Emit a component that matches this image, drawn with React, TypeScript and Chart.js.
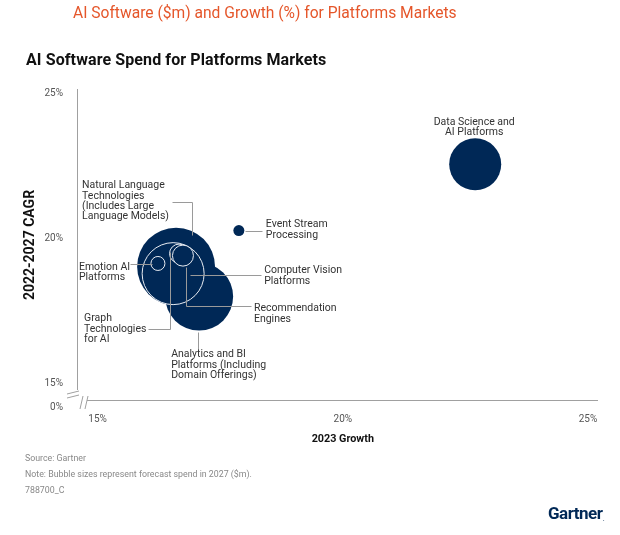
import { useEffect, useRef } from "react";
import { Chart, registerables } from "chart.js";
Chart.register(...registerables);

const markets = [
  "Natural Language Technologies (Includes Large Language Models)",
  "Analytics and BI Platforms (Including Domain Offerings)",
  "Computer Vision Platforms",
  "Emotion AI Platforms",
  "Graph Technologies for AI",
  "Recommendation Engines",
  "Event Stream Processing",
  "Data Science and AI Platforms",
];
const growth2023 = [16.6, 17.07, 16.54, 16.23, 16.66, 16.74, 17.88, 22.7];
const cagr = [19.03, 18.0, 18.79, 19.14, 19.48, 19.41, 20.27, 22.55];
const spend2027 = [15000, 11430, 9500, 485, 890, 1090, 300, 6690];
const xTicks = [15, 20, 25];
const yTicks = [15, 20, 25];
const brokenTickLabel = "0%";

const labelLines = [
  ["Natural Language", "Technologies", "(Includes Large", "Language Models)"],
  ["Analytics and BI", "Platforms (Including", "Domain Offerings)"],
  ["Computer Vision", "Platforms"],
  ["Emotion AI", "Platforms"],
  ["Graph", "Technologies", "for AI"],
  ["Recommendation", "Engines"],
  ["Event Stream", "Processing"],
  ["Data Science and", "AI Platforms"],
];

const labelLayout: { dx: number; dy: number; align: CanvasTextAlign; leader: number[][] }[] = [
  { dx: -94, dy: -81, align: "left", leader: [[-4, -65], [16, -65], [16, -32]] },
  { dx: -28, dy: 58, align: "left", leader: [[-1, 35], [-1, 55]] },
  { dx: 91, dy: -3, align: "left", leader: [[17, 1], [88, 1]] },
  { dx: -79, dy: 4, align: "left", leader: [[-28, 1], [-6, 1]] },
  { dx: -95, dy: 65, align: "left", leader: [[-31, 75], [-9, 75], [-9, -2]] },
  { dx: 71, dy: 53, align: "left", leader: [[3, 11], [3, 50], [68, 50]] },
  { dx: 27, dy: -6, align: "left", leader: [[6, 0], [23, 0]] },
  { dx: -1, dy: -42, align: "center", leader: [] },
];

const NAVY = "#002856";
const FONT = "Roboto";
const RADIUS_SCALE = 0.318;

const zeroPad = (s: any) => {
  s.paddingLeft = 0;
  s.paddingRight = 0;
  s.paddingTop = 0;
  s.paddingBottom = 0;
};

const decorPlugin = {
  id: "decor",
  afterDatasetsDraw(chart: any) {
    const ctx = chart.ctx as CanvasRenderingContext2D;
    const xs = chart.scales.x;
    const ys = chart.scales.y;
    const area = chart.chartArea;
    ctx.save();
    // axis lines
    ctx.strokeStyle = "#a0a0a0";
    ctx.lineWidth = 1;
    ctx.beginPath();
    ctx.moveTo(area.left - 0.5, area.top);
    ctx.lineTo(area.left - 0.5, area.bottom - 11);
    ctx.moveTo(area.left + 9, area.bottom - 0.5);
    ctx.lineTo(area.right + 10, area.bottom - 0.5);
    // y break marks
    ctx.moveTo(area.left - 11, area.bottom - 7);
    ctx.lineTo(area.left + 1, area.bottom - 10);
    ctx.moveTo(area.left - 11, area.bottom - 3);
    ctx.lineTo(area.left + 1, area.bottom - 6);
    // x break marks
    ctx.moveTo(area.left + 2, area.bottom + 8);
    ctx.lineTo(area.left + 5, area.bottom - 5);
    ctx.moveTo(area.left + 7, area.bottom + 8);
    ctx.lineTo(area.left + 10, area.bottom - 5);
    ctx.stroke();

    // broken tick label
    ctx.fillStyle = "#555";
    ctx.font = `10px ${FONT}`;
    ctx.textAlign = "right";
    ctx.textBaseline = "middle";
    ctx.fillText(brokenTickLabel, area.left - 15, area.bottom + 6);

    // axis titles
    ctx.fillStyle = "#111";
    ctx.font = `bold 10.8px ${FONT}`;
    ctx.textAlign = "center";
    ctx.fillText("2023 Growth", xs.getPixelForValue(20), area.bottom + 38);
    ctx.save();
    ctx.translate(30, (area.top + area.bottom) / 2);
    ctx.rotate(-Math.PI / 2);
    ctx.font = `bold 14px ${FONT}`;
    ctx.fillText("2022-2027 CAGR", 0, 0);
    ctx.restore();

    // leaders and labels
    const meta = chart.getDatasetMeta(0);
    meta.data.forEach((_pt: any, i: number) => {
      const cx = xs.getPixelForValue(growth2023[i]);
      const cy = ys.getPixelForValue(cagr[i]);
      const lay = labelLayout[i];
      if (lay.leader.length) {
        ctx.strokeStyle = "#9a9a9a";
        ctx.lineWidth = 1;
        ctx.beginPath();
        lay.leader.forEach((p, k) => {
          const px = Math.round(cx + p[0]) + 0.5;
          const py = Math.round(cy + p[1]) + 0.5;
          if (k === 0) ctx.moveTo(px, py);
          else ctx.lineTo(px, py);
        });
        ctx.stroke();
      }
      ctx.fillStyle = "#333";
      ctx.font = `10.5px ${FONT}`;
      ctx.textAlign = lay.align;
      ctx.textBaseline = "middle";
      labelLines[i].forEach((line, k) => {
        ctx.fillText(line, cx + lay.dx, cy + lay.dy + k * 10.3);
      });
    });
    ctx.restore();
  },
  afterDraw(chart: any) {
    const ctx = chart.ctx as CanvasRenderingContext2D;
    ctx.save();
    ctx.textBaseline = "middle";
    ctx.textAlign = "left";
    ctx.fillStyle = "#e5562a";
    ctx.font = `15.6px ${FONT}`;
    ctx.fillText("AI Software ($m) and Growth (%) for Platforms Markets", 73, 14);
    ctx.fillStyle = "#111";
    ctx.font = `bold 16px ${FONT}`;
    (ctx as any).letterSpacing = "0.1px";
    ctx.fillText("AI Software Spend for Platforms Markets", 26, 61);
    (ctx as any).letterSpacing = "0px";
    ctx.fillStyle = "#888";
    ctx.font = `8.8px ${FONT}`;
    ctx.fillText("Source: Gartner", 25, 459);
    ctx.fillText("Note: Bubble sizes represent forecast spend in 2027 ($m).", 25, 475);
    ctx.fillText("788700_C", 25, 491);
    ctx.fillStyle = NAVY;
    ctx.font = `bold 17px ${FONT}`;
    (ctx as any).letterSpacing = "-0.5px";
    ctx.fillText("Gartner", 548, 515);
    ctx.font = `bold 5px ${FONT}`;
    ctx.fillText(".", 603, 520);
    ctx.restore();
  },
};

export default function App() {
  const ref = useRef<HTMLCanvasElement>(null);
  useEffect(() => {
    if (!ref.current) return;
    const chart = new Chart(ref.current, {
      type: "bubble",
      data: {
        labels: markets,
        datasets: [
          {
            data: markets.map((_, i) => ({
              x: growth2023[i],
              y: cagr[i],
              r: Math.sqrt(spend2027[i]) * RADIUS_SCALE,
            })),
            backgroundColor: NAVY,
            borderColor: markets.map((_, i) => (i >= 2 && i <= 5 ? "#e8ecf2" : NAVY)),
            borderWidth: markets.map((_, i) => (i >= 2 && i <= 5 ? 1 : 0)),
            clip: false as any,
          },
        ],
      },
      options: {
        responsive: false,
        animation: false,
        events: [],
        layout: { autoPadding: false, padding: { left: 8, top: 89, right: 32, bottom: 104 } },
        plugins: { legend: { display: false }, tooltip: { enabled: false } },
        scales: {
          x: {
            type: "linear",
            min: 14.6,
            max: 25,
            afterBuildTicks: (s: any) => {
              s.ticks = xTicks.map((v) => ({ value: v }));
            },
            afterFit: (s: any) => {
              s.height = 30;
              zeroPad(s);
            },
            grid: { display: false, drawTicks: false },
            border: { display: false },
            ticks: {
              callback: (v: any) => `${v}%`,
              color: "#555",
              font: { family: FONT, size: 10 },
              padding: 12,
              maxRotation: 0,
              autoSkip: false,
            },
          },
          y: {
            type: "linear",
            min: 14.41,
            max: 25.14,
            afterBuildTicks: (s: any) => {
              s.ticks = yTicks.map((v) => ({ value: v }));
            },
            afterFit: (s: any) => {
              s.width = 70;
              zeroPad(s);
            },
            grid: { display: false, drawTicks: false },
            border: { display: false },
            ticks: {
              callback: (v: any) => `${v}%`,
              color: "#555",
              font: { family: FONT, size: 10 },
              padding: 15,
              autoSkip: false,
            },
          },
        },
      },
      plugins: [decorPlugin],
    });
    return () => chart.destroy();
  }, []);
  return (
    <canvas
      ref={ref}
      width={620}
      height={535}
      style={{ position: "absolute", left: 0, top: 0, width: 620, height: 535 }}
    />
  );
}
